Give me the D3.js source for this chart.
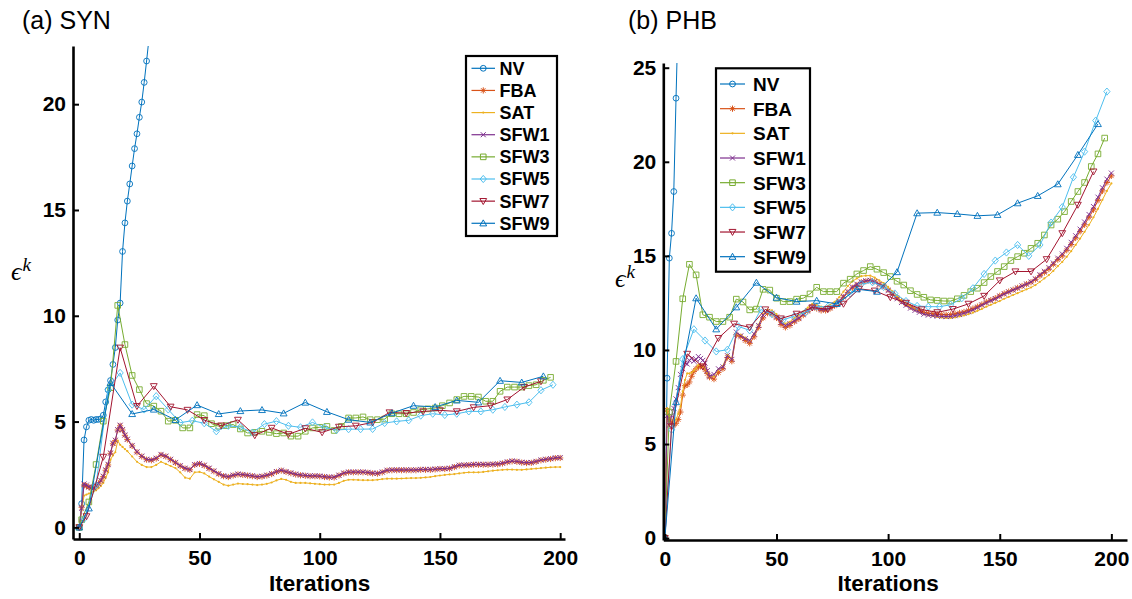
<!DOCTYPE html>
<html><head><meta charset="utf-8">
<script src="https://cdn.jsdelivr.net/npm/d3@7"></script>
<style>body{margin:0;background:#fff}svg{display:block}</style>
</head><body>
<svg id="c" width="1132" height="599"></svg>
<script>
// ---------- series meta ----------
const seriesNames = ["NV","FBA","SAT","SFW1","SFW3","SFW5","SFW7","SFW9"];
const seriesColors = ["#0072BD","#D95319","#EDB120","#7E2F8E","#77AC30","#4DBEEE","#A2142F","#0072BD"];
const seriesMarkers = ["o","*",".","x","s","d","v","^"];
const xTickLabels = [0,50,100,150,200];
const synYTicks = [0,5,10,15,20];
const phbYTicks = [0,5,10,15,20,25];

// ---------- iteration grids ----------
const denseIters = d3.range(0,21).concat(d3.range(22,201,2));

// ---------- (a) SYN ----------
const synNVIters = d3.range(0,31);
const synNV = [0,1.12,4.13,4.75,5.06,5.1,5.06,5.1,5.1,5.13,5.3,5.93,6.5,6.94,7.7,8.5,9.8,10.6,13.04,14.39,15.42,16.23,17.08,17.9,18.6,19.38,20.1,21.03,22.04,23.1,24.2];
const synFBA = [0,0.95,2.0,1.95,1.9,1.85,1.85,1.95,2.05,2.2,2.4,2.7,2.95,3.5,3.95,4.1,4.6,4.8,4.6,4.35,4.15,
 3.85,3.55,3.35,3.2,3.17,3.25,3.42,3.35,3.2,3.05,
 2.9,2.78,2.72,2.95,3.0,2.92,2.78,2.65,2.52,2.42,
 2.38,2.45,2.5,2.48,2.45,2.42,2.38,2.4,2.45,2.52,
 2.62,2.68,2.62,2.56,2.5,2.46,2.44,2.42,2.42,2.41,
 2.38,2.36,2.36,2.45,2.55,2.6,2.6,2.6,2.6,2.58,
 2.55,2.54,2.6,2.68,2.7,2.7,2.7,2.7,2.7,2.7,
 2.72,2.72,2.72,2.74,2.76,2.76,2.78,2.85,2.92,2.93,
 2.94,2.96,2.96,2.96,2.96,2.97,2.98,3.02,3.08,3.12,
 3.1,3.06,3.04,3.05,3.1,3.17,3.2,3.23,3.27,3.28];
const synSAT = [0,0.8,1.5,1.55,1.6,1.65,1.7,1.75,1.85,1.95,2.1,2.35,2.6,3.2,3.4,3.55,4.1,3.9,3.8,3.7,3.6,
 3.35,3.1,2.95,2.85,2.85,2.95,3.1,3.0,2.9,2.8,
 2.6,2.35,2.3,2.6,2.62,2.55,2.4,2.27,2.15,2.02,
 1.97,2.02,2.07,2.05,2.04,2.02,2.0,2.02,2.06,2.12,
 2.22,2.29,2.25,2.15,2.1,2.1,2.1,2.08,2.06,2.04,
 2.02,2.02,2.02,2.1,2.2,2.25,2.25,2.24,2.23,2.23,
 2.23,2.25,2.28,2.3,2.3,2.3,2.31,2.32,2.33,2.33,
 2.34,2.36,2.38,2.42,2.45,2.48,2.5,2.52,2.55,2.58,
 2.6,2.6,2.6,2.62,2.65,2.68,2.7,2.72,2.73,2.73,
 2.72,2.72,2.74,2.76,2.78,2.8,2.82,2.84,2.85,2.85];
const synSFW1 = [0,0.9,2.05,2.0,1.92,1.88,1.87,1.97,2.07,2.22,2.42,2.72,2.98,3.52,3.98,4.12,4.62,4.83,4.62,4.37,4.17,
 3.87,3.57,3.37,3.22,3.19,3.27,3.45,3.37,3.22,3.07,
 2.92,2.8,2.74,2.97,3.02,2.94,2.8,2.67,2.54,2.44,
 2.4,2.47,2.52,2.5,2.47,2.44,2.4,2.42,2.47,2.54,
 2.64,2.7,2.64,2.58,2.52,2.48,2.46,2.44,2.44,2.43,
 2.4,2.38,2.38,2.47,2.57,2.62,2.62,2.62,2.62,2.6,
 2.57,2.56,2.62,2.7,2.72,2.72,2.72,2.72,2.72,2.72,
 2.74,2.74,2.74,2.76,2.78,2.78,2.8,2.87,2.94,2.95,
 2.96,2.98,2.98,2.98,2.98,2.99,3.0,3.04,3.1,3.14,
 3.12,3.08,3.06,3.07,3.12,3.19,3.22,3.25,3.29,3.3];
const synSFW3Iters = [0].concat(d3.range(1,197,3));
const synSFW3 = [0,0.36,1.2,2.97,5.02,6.6,10.49,8.64,7.18,6.51,5.85,5.73,5.49,5.02,5.06,4.7,4.7,5.33,5.28,4.9,4.78,4.81,4.86,4.65,4.46,4.49,4.54,4.49,4.43,4.46,4.31,4.31,4.54,4.7,4.73,4.77,4.58,4.77,5.17,5.17,5.22,5.09,5.09,5.12,5.37,5.37,5.37,5.43,5.56,5.6,5.64,5.75,5.88,6.04,6.19,6.19,6.16,5.96,5.96,6.43,6.63,6.63,6.63,6.7,6.74,6.95,7.09];
const synSFW5Iters = [0].concat(d3.range(2,198,5));
const synSFW5 = [0,0.4,2.0,6.5,7.3,5.8,5.57,6.2,5.57,4.95,5.04,4.92,4.54,4.8,4.74,4.48,4.88,5.02,4.8,4.73,4.96,4.72,4.6,4.64,4.64,4.65,4.93,5.01,5.06,5.28,5.37,5.31,5.37,5.48,5.48,5.56,5.69,5.8,5.91,6.48,6.74];
const synSFW7Iters = [0].concat(d3.range(3,193,7));
const synSFW7 = [0,0.52,3.33,8.49,5.73,6.67,5.7,5.55,5.07,4.81,5.08,4.35,4.7,4.4,4.68,4.49,4.75,4.8,4.96,5.43,5.4,5.48,5.53,5.48,5.67,5.75,6.04,6.63,6.9];
const synSFW9Iters = [0].concat(d3.range(4,194,9));
const synSFW9 = [0,0.9,6.83,5.36,5.57,5.08,5.78,5.36,5.5,5.55,5.39,5.9,5.46,5.09,4.96,5.4,5.75,5.69,6.0,5.91,6.93,6.85,7.14];

// ---------- (b) PHB ----------
const phbNVIters = d3.range(0,7);
const phbNV = [0,8.5,14.88,16.2,18.42,23.38,28.0];
const phbFBA = [0,6.8,6.3,6.1,6.0,6.1,6.3,6.7,7.6,8.1,8.15,8.3,8.6,8.85,9.0,9.1,9.15,9.1,8.95,8.75,8.55,
 8.45,8.8,9.0,9.6,9.4,10.8,10.7,10.5,10.35,10.7,
 11.2,11.7,11.95,11.9,11.7,11.35,11.2,11.3,11.5,11.65,
 11.85,12.05,12.25,12.2,12.1,12.1,12.2,12.35,12.55,12.8,
 13.05,13.3,13.45,13.6,13.65,13.7,13.65,13.5,13.4,13.2,
 13.0,12.8,12.6,12.45,12.3,12.2,12.1,12.0,11.95,11.92,
 11.9,11.88,11.87,11.88,11.92,11.97,12.02,12.1,12.2,12.3,
 12.42,12.55,12.65,12.75,12.88,13.0,13.1,13.2,13.3,13.4,
 13.5,13.6,13.75,13.95,14.12,14.3,14.55,14.8,15.0,15.3,
 15.6,15.95,16.3,16.65,17.05,17.45,17.95,18.45,18.9,19.25];
const phbSAT = [0,6.9,6.5,6.3,6.2,6.3,6.6,7.0,7.8,8.4,8.75,8.75,8.8,8.9,9.0,9.2,9.2,9.1,9.0,8.8,8.6,
 8.6,8.95,9.15,9.75,9.55,10.9,10.8,10.65,10.5,10.85,
 11.35,11.9,12.15,12.1,11.9,11.55,11.4,11.5,11.7,11.85,
 12.05,12.25,12.45,12.4,12.3,12.3,12.4,12.55,12.8,13.1,
 13.4,13.65,13.8,13.92,13.95,13.95,13.85,13.7,13.55,13.35,
 13.1,12.85,12.62,12.45,12.28,12.15,12.02,11.92,11.85,11.8,
 11.75,11.72,11.7,11.7,11.73,11.78,11.83,11.9,11.98,12.08,
 12.18,12.3,12.4,12.5,12.6,12.72,12.82,12.92,13.02,13.12,
 13.22,13.32,13.45,13.62,13.8,13.98,14.2,14.45,14.68,14.95,
 15.25,15.58,15.92,16.28,16.65,17.05,17.5,17.98,18.45,18.85];
const phbSFW1 = [0,6.5,6.0,6.5,6.9,7.4,8.0,8.7,9.0,9.3,9.25,9.45,9.55,9.4,9.5,9.65,9.55,9.45,9.3,8.9,8.6,
 8.7,9.0,9.1,9.7,9.5,10.95,10.75,10.6,10.5,10.85,
 11.3,11.85,12.05,11.95,11.75,11.45,11.3,11.4,11.55,11.7,
 11.9,12.1,12.3,12.25,12.15,12.15,12.25,12.4,12.6,12.85,
 13.1,13.35,13.5,13.62,13.68,13.7,13.62,13.48,13.35,13.15,
 12.95,12.72,12.52,12.37,12.22,12.1,12.0,11.9,11.85,11.82,
 11.8,11.78,11.77,11.78,11.82,11.88,11.95,12.03,12.13,12.25,
 12.38,12.5,12.62,12.72,12.85,12.97,13.08,13.18,13.28,13.4,
 13.5,13.62,13.78,14.0,14.18,14.38,14.62,14.88,15.1,15.4,
 15.72,16.07,16.42,16.8,17.2,17.62,18.12,18.62,19.08,19.4];
const phbSFW3Iters = [0].concat(d3.range(2,198,3));
const phbSFW3 = [0,6.7,9.39,12.72,14.55,13.99,11.87,11.74,11.51,11.51,11.74,12.7,12.55,12.13,12.17,13.22,13.18,12.75,12.57,12.57,12.7,12.75,12.98,13.33,13.1,13.1,13.1,13.55,13.76,14.04,14.22,14.43,14.29,14.11,13.9,13.65,13.45,13.15,12.95,12.8,12.66,12.63,12.6,12.6,12.72,12.9,13.1,13.28,13.58,13.9,14.17,14.43,14.75,14.96,15.14,15.4,15.67,16.11,16.64,16.95,17.35,17.89,18.42,18.9,19.75,20.42,21.26];
const phbSFW5Iters = [0].concat(d3.range(3,199,5));
const phbSFW5 = [0,5.76,9.51,11.1,10.5,9.92,10.01,11.25,11.04,12.15,11.9,11.6,11.8,12.0,12.3,12.3,12.5,13.0,13.5,13.6,13.35,13.0,12.6,12.34,12.3,12.3,12.4,12.75,13.28,14.04,14.75,15.18,15.58,15.0,15.58,16.77,17.59,19.18,20.54,22.19,23.73];
const phbSFW7Iters = [0].concat(d3.range(3,193,7));
const phbSFW7 = [0,5.93,9.79,9.12,10.63,11.39,11.2,12.15,11.67,11.92,12.25,12.17,12.45,13.25,13.15,12.8,12.5,12.15,12.0,12.17,12.45,12.87,13.69,14.17,14.17,14.82,16.2,17.71,19.48];
const phbSFW9Iters = [0].concat(d3.range(5,195,9));
const phbSFW9 = [0,7.23,12.75,11.1,12.27,13.58,12.78,12.57,12.62,12.45,13.23,13.1,14.14,17.27,17.3,17.23,17.13,17.18,17.8,18.19,18.81,20.37,22.01];

// ---------- marker shapes ----------
function markerPath(t){
  switch(t){
    case "o": {const r=2.9; return `M${r},0A${r},${r} 0 1,1 ${-r},0A${r},${r} 0 1,1 ${r},0Z`;}
    case "*": {const r=3.1,d=2.2; return `M${-r},0H${r}M0,${-r}V${r}M${-d},${-d}L${d},${d}M${-d},${d}L${d},${-d}`;}
    case ".": {const r=1.1; return `M${r},0A${r},${r} 0 1,1 ${-r},0A${r},${r} 0 1,1 ${r},0Z`;}
    case "x": {const d=2.5; return `M${-d},${-d}L${d},${d}M${-d},${d}L${d},${-d}`;}
    case "s": {const a=2.8; return `M${-a},${-a}H${a}V${a}H${-a}Z`;}
    case "d": {const a=3.1,b=3.6; return `M0,${-b}L${a},0L0,${b}L${-a},0Z`;}
    case "v": {const a=3.4; return `M${-a},${-2.6}L${a},${-2.6}L0,${3.4}Z`;}
    case "^": {const a=3.4; return `M${-a},${2.6}L${a},${2.6}L0,${-3.4}Z`;}
  }
}

const svg = d3.select("#c");

function drawPanel(p){
  const x = d3.scaleLinear().domain(p.xDomain).range(p.xRange);
  const y = d3.scaleLinear().domain(p.yDomain).range(p.yRange);
  const g = svg.append("g");
  const clipId = "clip"+p.id;
  svg.append("defs").append("clipPath").attr("id",clipId).append("rect")
    .attr("x",p.xRange[0]).attr("y",p.yRange[1])
    .attr("width",p.xRange[1]-p.xRange[0]).attr("height",p.yRange[0]-p.yRange[1]);
  const plot = g.append("g").attr("clip-path",`url(#${clipId})`);
  const line = d3.line().x(d=>x(d[0])).y(d=>y(d[1]));
  p.series.forEach((s,k)=>{
    const pts = s.iters.map((it,j)=>[it,s.vals[j]]);
    const col = seriesColors[k];
    const sg = plot.append("g");
    sg.append("path").attr("d",line(pts)).attr("fill","none").attr("stroke",col).attr("stroke-width",1);
    const m = seriesMarkers[k];
    sg.selectAll("path.m").data(pts).enter().append("path").attr("class","m")
      .attr("d",markerPath(m))
      .attr("transform",d=>`translate(${x(d[0])},${y(d[1])})`)
      .attr("fill",m==="."?col:"none").attr("stroke",col).attr("stroke-width",m==="."?0:0.9);
  });
  // axes
  const ax = g.append("g").attr("transform",`translate(0,${p.yRange[0]})`)
    .call(d3.axisBottom(x).tickValues(xTickLabels).tickSizeInner(-6).tickSizeOuter(0).tickPadding(11));
  const ay = g.append("g").attr("transform",`translate(${p.xRange[0]},0)`)
    .call(d3.axisLeft(y).tickValues(p.yTicks).tickSizeInner(-6).tickSizeOuter(0).tickPadding(7));
  [ax,ay].forEach(a=>{
    a.select(".domain").attr("stroke","#000").attr("stroke-width",2.6);
    a.selectAll(".tick line").attr("stroke","#000").attr("stroke-width",2);
    a.selectAll(".tick text").attr("fill","#000").style("font-family","'Liberation Sans',Arial,sans-serif")
      .style("font-weight","bold").style("font-size","21px");
  });
  // x label
  g.append("text").attr("x",(x(0)+x(200))/2).attr("y",590.5).attr("text-anchor","middle")
    .style("font-family","'Liberation Sans',Arial,sans-serif").style("font-weight","bold").style("font-size","22.5px")
    .text("Iterations");
  // y label
  const yl = g.append("text").attr("x",p.epsX).attr("y",p.epsY)
    .style("font-family","'Liberation Serif','DejaVu Serif',serif").style("font-style","italic");
  yl.append("tspan").style("font-size","26px").text("ϵ");
  yl.append("tspan").attr("dy",-9).attr("dx",1).style("font-size","19px").text("k");
  // title
  g.append("text").attr("x",p.titleX).attr("y",28.5)
    .style("font-family","'Liberation Sans',Arial,sans-serif").style("font-size","25px").text(p.title);
  // legend
  const L = p.legend;
  const lg = g.append("g");
  lg.append("rect").attr("x",L.x0).attr("y",L.y0).attr("width",L.x1-L.x0).attr("height",L.y1-L.y0)
    .attr("fill","#fff").attr("stroke","#000").attr("stroke-width",2.2);
  seriesNames.forEach((nm,k)=>{
    const yy = L.first + k*L.step;
    const col = seriesColors[k];
    lg.append("line").attr("x1",L.lx0).attr("x2",L.lx1).attr("y1",yy).attr("y2",yy)
      .attr("stroke",col).attr("stroke-width",1.2);
    const m = seriesMarkers[k];
    lg.append("path").attr("d",markerPath(m)).attr("transform",`translate(${(L.lx0+L.lx1)/2},${yy})`)
      .attr("fill",m==="."?col:"none").attr("stroke",col).attr("stroke-width",m==="."?0:1);
    lg.append("text").attr("x",L.tx).attr("y",yy).attr("dy","0.36em")
      .style("font-family","'Liberation Sans',Arial,sans-serif").style("font-weight","bold")
      .style("font-size",L.fs+"px").text(nm);
  });
}

drawPanel({
  id:"a", title:"(a) SYN", titleX:22, epsX:11, epsY:280,
  xDomain:[-2.6,202], xRange:[73,565], yDomain:[-0.55,22.75], yRange:[539,46], yTicks:synYTicks,
  series:[
    {iters:synNVIters, vals:synNV},
    {iters:denseIters, vals:synFBA},
    {iters:denseIters, vals:synSAT},
    {iters:denseIters, vals:synSFW1},
    {iters:synSFW3Iters, vals:synSFW3},
    {iters:synSFW5Iters, vals:synSFW5},
    {iters:synSFW7Iters, vals:synSFW7},
    {iters:synSFW9Iters, vals:synSFW9}
  ],
  legend:{x0:466,y0:56,x1:557,y1:236,first:68.3,step:22.14,lx0:471.5,lx1:495,tx:499.5,fs:18}
});
drawPanel({
  id:"b", title:"(b) PHB", titleX:628, epsX:615, epsY:287,
  xDomain:[-0.7,207], xRange:[663.3,1127], yDomain:[-0.1,25.25], yRange:[540,63], yTicks:phbYTicks,
  series:[
    {iters:phbNVIters, vals:phbNV},
    {iters:denseIters, vals:phbFBA},
    {iters:denseIters, vals:phbSAT},
    {iters:denseIters, vals:phbSFW1},
    {iters:phbSFW3Iters, vals:phbSFW3},
    {iters:phbSFW5Iters, vals:phbSFW5},
    {iters:phbSFW7Iters, vals:phbSFW7},
    {iters:phbSFW9Iters, vals:phbSFW9}
  ],
  legend:{x0:716,y0:68.3,x1:810,y1:271.7,first:84,step:24.67,lx0:720,lx1:745,tx:753,fs:19}
});
</script>
</body></html>
